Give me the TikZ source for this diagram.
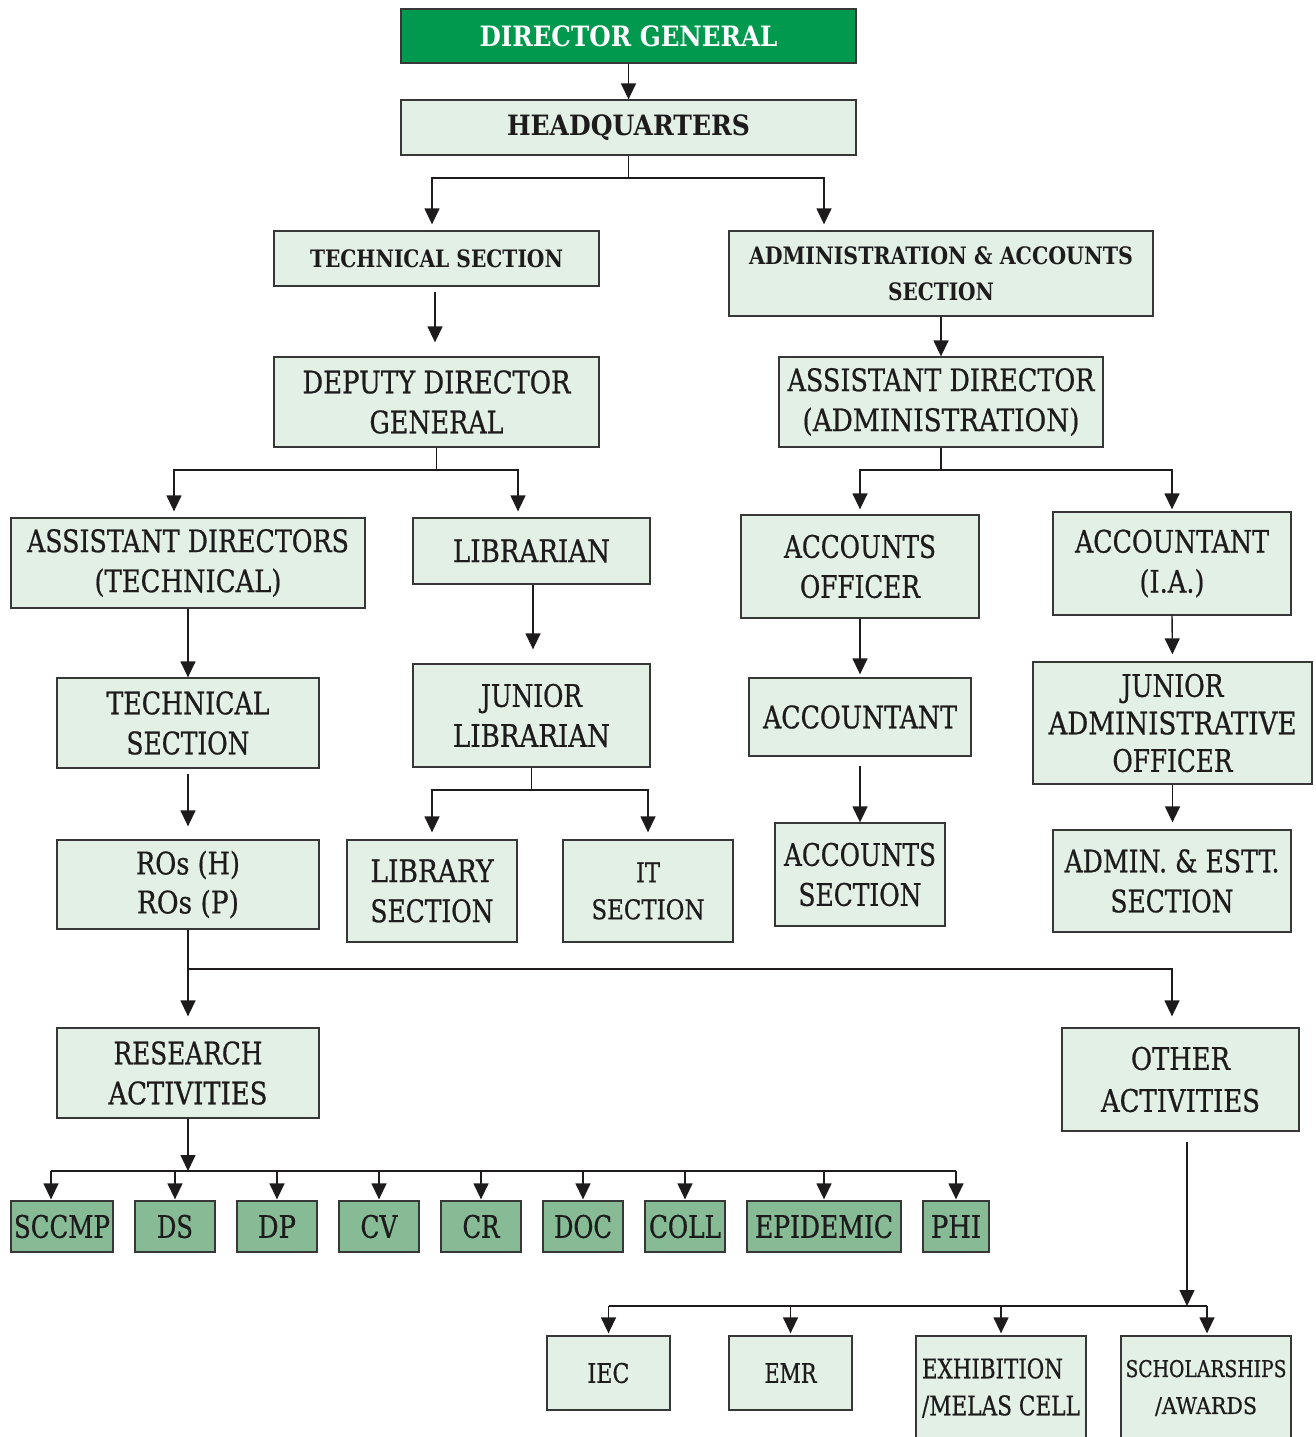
\documentclass[tikz,border=0pt]{standalone}
\usepackage{fontspec}
\setmainfont{DejaVu Serif}[UprightFeatures={FakeBold=0.7}]
\usepackage{graphicx}
\usetikzlibrary{arrows.meta,calc}
\definecolor{dgreen}{RGB}{0,153,78}
\definecolor{lgreen}{RGB}{226,240,230}
\definecolor{mgreen}{RGB}{134,187,150}
\definecolor{ink}{RGB}{30,27,28}
\definecolor{edge}{RGB}{55,55,55}
\newcommand\fw[2]{\resizebox{#1pt}{\height}{#2}}
\tikzset{
 box/.style={draw=edge, line width=1.3pt, fill=lgreen, inner sep=0pt, align=center, text=ink, font=\fontsize{31}{40}\selectfont},
 bbox/.style={box, font=\bfseries\fontsize{28}{36}\selectfont},
 sbbox/.style={box, font=\bfseries\fontsize{24}{36}\selectfont},
 sbox/.style={box, fill=mgreen, minimum height=51pt},
 conn/.style={draw=ink, line width=1.4pt},
 arr/.style={conn, -{Triangle[width=15pt,length=16pt]}},
}
\begin{document}
\begin{tikzpicture}[x=1pt,y=-1pt]
\useasboundingbox (0,0) rectangle (1315,1437);
% top
\node[bbox, fill=dgreen, text=white, minimum width=455pt, minimum height=54pt] (dg) at (628.5,36) {\fw{298}{DIRECTOR GENERAL}};
\node[bbox, minimum width=455pt, minimum height=55pt] (hq) at (628.5,127.5) {\fw{243}{HEADQUARTERS}};
\node[sbbox, minimum width=325pt, minimum height=55pt] (ts) at (436.5,258.5) {\fw{253}{TECHNICAL SECTION}};
\node[sbbox, minimum width=424pt, minimum height=85pt] (aa) at (941,273.5) {\fw{384}{ADMINISTRATION \& ACCOUNTS}\\\fw{106}{SECTION}};
\node[box, minimum width=325pt, minimum height=90pt] (ddg) at (436.5,402) {\fw{268}{DEPUTY DIRECTOR}\\\fw{134}{GENERAL}};
\node[box, minimum width=324pt, minimum height=90pt] (ada) at (941,402) {\fw{307}{ASSISTANT DIRECTOR}\\\fw{277}{(ADMINISTRATION)}};
% third level
\node[box, minimum width=354pt, minimum height=90pt] (adt) at (188,563) {\fw{322}{ASSISTANT DIRECTORS}\\\fw{187}{(TECHNICAL)}};
\node[box, minimum width=237pt, minimum height=66pt] (lib) at (531.5,551) {\fw{157}{LIBRARIAN}};
\node[box, minimum width=238pt, minimum height=103pt] (ao) at (860,566.5) {\fw{152}{ACCOUNTS}\\\fw{120}{OFFICER}};
\node[box, minimum width=238pt, minimum height=103pt] (aia) at (1172,563.5) {\fw{194}{ACCOUNTANT}\\\fw{65}{(I.A.)}};
% fourth level
\node[box, minimum width=262pt, minimum height=90pt] (tsec) at (188,723) {\fw{163}{TECHNICAL}\\\fw{123}{SECTION}};
\node[box, minimum width=237pt, minimum height=103pt] (jl) at (531.5,715.5) {\fw{101}{JUNIOR}\\\fw{157}{LIBRARIAN}};
\node[box, minimum width=222pt, minimum height=78pt] (acc) at (860,717) {\fw{194}{ACCOUNTANT}};
\node[box, font=\fontsize{31}{37.5}\selectfont, minimum width=279pt, minimum height=122pt] (jao) at (1172.5,723) {\fw{102}{JUNIOR}\\\fw{248}{ADMINISTRATIVE}\\\fw{120}{OFFICER}};
% fifth level
\node[box, font=\fontsize{31}{39}\selectfont, minimum width=262pt, minimum height=89pt] (ros) at (188,884.5) {\fw{104}{ROs (H)}\\\fw{102}{ROs (P)}};
\node[box, minimum width=170pt, minimum height=102pt] (ls) at (432,891) {\fw{123}{LIBRARY}\\\fw{123}{SECTION}};
\node[box, font=\fontsize{27}{37}\selectfont, minimum width=170pt, minimum height=102pt] (its) at (648,891) {\fw{24}{IT}\\\fw{113}{SECTION}};
\node[box, minimum width=170pt, minimum height=103pt] (as) at (860,874.5) {\fw{152}{ACCOUNTS}\\\fw{123}{SECTION}};
\node[box, minimum width=238pt, minimum height=102pt] (ae) at (1172,881) {\fw{215}{ADMIN. \& ESTT.}\\\fw{123}{SECTION}};
% activities
\node[box, minimum width=262pt, minimum height=90pt] (ra) at (188,1073) {\fw{149}{RESEARCH}\\\fw{159}{ACTIVITIES}};
\node[box, font=\fontsize{31}{42}\selectfont, minimum width=237pt, minimum height=103pt] (oa) at (1180.5,1079.5) {\fw{99}{OTHER}\\\fw{159}{ACTIVITIES}};
% research boxes
\node[sbox, minimum width=102pt] (sccmp) at (62,1226.5) {\fw{96}{SCCMP}};
\node[sbox, minimum width=80pt] (ds) at (175,1226.5) {\fw{36}{DS}};
\node[sbox, minimum width=80pt] (dp) at (277,1226.5) {\fw{38}{DP}};
\node[sbox, minimum width=80pt] (cv) at (379,1226.5) {\fw{37}{CV}};
\node[sbox, minimum width=80pt] (cr) at (481,1226.5) {\fw{37}{CR}};
\node[sbox, minimum width=80pt] (doc) at (583,1226.5) {\fw{58}{DOC}};
\node[sbox, minimum width=80pt] (coll) at (685,1226.5) {\fw{72}{COLL}};
\node[sbox, minimum width=154pt] (epi) at (824,1226.5) {\fw{138}{EPIDEMIC}};
\node[sbox, minimum width=66pt] (phi) at (956,1226.5) {\fw{50}{PHI}};
% other boxes
\node[box, font=\fontsize{27}{37}\selectfont, minimum width=123pt, minimum height=74pt] (iec) at (608.5,1373) {\fw{42}{IEC}};
\node[box, font=\fontsize{27}{37}\selectfont, minimum width=123pt, minimum height=74pt] (emr) at (790.5,1373) {\fw{52}{EMR}};
\node[box, align=left, font=\fontsize{27}{37}\selectfont, minimum width=170pt, minimum height=104pt] (exh) at (1001,1388) {\fw{141}{EXHIBITION}\\\fw{158}{/MELAS CELL}};
\node[box, font=\fontsize{23}{37}\selectfont, minimum width=170pt, minimum height=104pt] (sch) at (1206,1388) {\fw{161}{SCHOLARSHIPS}\\\fw{102}{/AWARDS}};
% connectors
\draw[arr] (dg.south) -- (hq.north);
\coordinate (j1) at (628.5,178);
\draw[conn] (hq.south) -- (j1);
\draw[arr, shorten >=6pt] (j1) -| ([xshift=-4.5pt]ts.north);
\draw[arr, shorten >=6pt] (j1) -| ([xshift=-117pt]aa.north);
\draw[arr, shorten <=5pt, shorten >=14pt] ([xshift=-1.5pt]ts.south) -- ([xshift=-1.5pt]ddg.north);
\draw[arr] (aa.south) -- (ada.north);
\coordinate (j2) at (436.5,470);
\draw[conn] (ddg.south) -- (j2);
\draw[arr, shorten >=6pt] (j2) -| ([xshift=-14pt]adt.north);
\draw[arr, shorten >=6pt] (j2) -| ([xshift=-13.5pt]lib.north);
\coordinate (j3) at (941,470);
\draw[conn] (ada.south) -- (j3);
\draw[arr, shorten >=5pt] (j3) -| (ao.north);
\draw[arr, shorten >=2pt] (j3) -| (aia.north);
\draw[arr] (adt.south) -- (tsec.north);
\draw[arr, shorten <=5pt, shorten >=13pt] (tsec.south) -- (ros.north);
\draw[arr, shorten >=14pt] ([xshift=1.5pt]lib.south) -- ([xshift=1.5pt]jl.north);
\coordinate (j4) at (531.5,790);
\draw[conn] (jl.south) -- (j4);
\draw[arr, shorten >=7pt] (j4) -| (ls.north);
\draw[arr, shorten >=7pt] (j4) -| (its.north);
\draw[arr, shorten >=3pt] (ao.south) -- (acc.north);
\draw[arr, shorten <=9pt] (acc.south) -- (as.north);
\draw[arr, shorten >=7pt] ([xshift=-0.5pt]aia.south -| jao.north) -- (jao.north);
\draw[arr, shorten >=7pt] (jao.south) -- (jao.south |- ae.north);
\coordinate (j5) at (188,969);
\draw[conn] (ros.south) -- (j5);
\draw[arr, shorten >=11pt] (j5) -- (ra.north);
\draw[arr, shorten >=11pt] (j5) -| ([xshift=-8.5pt]oa.north);
\coordinate (rl) at (51,1171);
\coordinate (rr) at (956,1171);
\draw[arr] (ra.south) -- (ra.south |- rl);
\draw[conn] (rl) -- (rr);
\draw[arr, shorten >=1pt] (rl) -- (rl |- sccmp.north);
\foreach \n in {ds,dp,cv,cr,doc,coll,epi,phi}{
  \draw[arr, shorten >=1pt] (\n.north |- rl) -- (\n.north);
}
\coordinate (ol) at (608.5,1306);
\coordinate (or) at (1207,1306);
\draw[arr, shorten <=10pt] ([xshift=6.5pt]oa.south) -- ([xshift=6.5pt]oa.south |- ol);
\draw[conn] (ol) -- (or);
\draw[arr, shorten >=2pt] (ol) -- (iec.north);
\draw[arr, shorten >=2pt] (emr.north |- ol) -- (emr.north);
\draw[arr, shorten >=2pt] (exh.north |- ol) -- (exh.north);
\draw[arr, shorten >=2pt] (or) -- (or |- sch.north);
\end{tikzpicture}
\end{document}
